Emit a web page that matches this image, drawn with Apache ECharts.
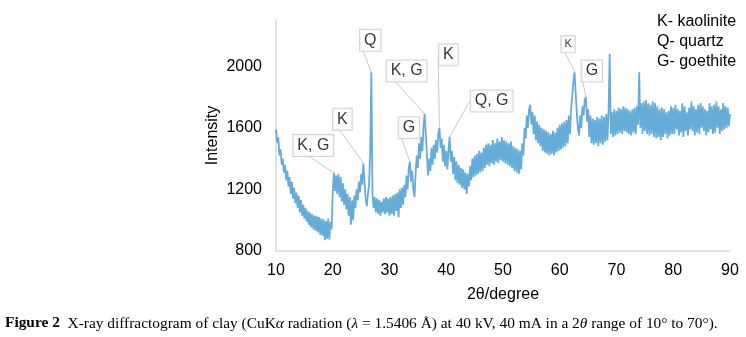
<!DOCTYPE html>
<html>
<head>
<meta charset="utf-8">
<script src="https://cdn.jsdelivr.net/npm/echarts@6/dist/echarts.min.js"></script>
<style>
  html, body { margin: 0; padding: 0; background: #fff; }
  #chart { width: 746px; height: 337px; }
</style>
</head>
<body>
<div id="chart"></div>
<script>
// 2theta sampled every 0.2 degree from 10 to 90
const thetaStart = 10
const thetaStep = 0.2

// intensity, one array per 10 degrees
const int10to20 = [1590, 1500, 1540, 1420, 1460, 1360, 1400, 1310, 1360, 1260,
  1320, 1220, 1280, 1170, 1250, 1140, 1210, 1110, 1180, 1080,
  1160, 1050, 1130, 1030, 1100, 1010, 1080, 990, 1060, 970,
  1050, 955, 1040, 940, 1030, 930, 1025, 920, 1020, 905,
  1010, 900, 1005, 870, 995, 880, 1010, 875, 990, 940]
const int20to30 = [1180, 1310, 1190, 1290, 1170, 1300, 1150, 1280, 1120, 1240,
  1100, 1200, 1070, 1170, 1030, 1150, 970, 1130, 1000, 1160,
  1080, 1200, 1130, 1250, 1180, 1300, 1230, 1370, 1250, 1140,
  1090, 1170, 1230, 1440, 1960, 1170, 1080, 1150, 1050, 1140,
  1040, 1130, 1030, 1120, 1050, 1140, 1040, 1150, 1050, 1140]
const int30to40 = [1030, 1150, 1040, 1160, 1030, 1170, 1060, 1180, 1020, 1200,
  1080, 1210, 1100, 1230, 1150, 1290, 1200, 1340, 1380, 1250,
  1320, 1200, 1150, 1300, 1420, 1340, 1500, 1400, 1540, 1450,
  1610, 1690, 1560, 1420, 1290, 1400, 1320, 1470, 1360, 1490,
  1400, 1520, 1440, 1560, 1600, 1470, 1530, 1380, 1490, 1350]
const int40to50 = [1450, 1330, 1460, 1540, 1380, 1450, 1300, 1410, 1260, 1380,
  1240, 1360, 1230, 1340, 1210, 1330, 1200, 1310, 1170, 1300,
  1220, 1350, 1260, 1400, 1280, 1420, 1290, 1430, 1300, 1450,
  1310, 1440, 1320, 1470, 1340, 1490, 1360, 1500, 1350, 1490,
  1370, 1520, 1360, 1500, 1380, 1530, 1370, 1510, 1390, 1540]
const int50to60 = [1380, 1520, 1370, 1510, 1360, 1500, 1350, 1510, 1340, 1480,
  1320, 1470, 1310, 1460, 1300, 1450, 1330, 1500, 1420, 1600,
  1530, 1680, 1600, 1720, 1750, 1620, 1700, 1560, 1680, 1520,
  1640, 1500, 1620, 1480, 1600, 1450, 1590, 1440, 1580, 1430,
  1570, 1420, 1560, 1430, 1580, 1420, 1570, 1440, 1600, 1450]
const int60to70 = [1620, 1460, 1630, 1470, 1640, 1480, 1650, 1500, 1680, 1560,
  1720, 1800, 1900, 1960, 1950, 1700, 1600, 1550, 1680, 1600,
  1740, 1680, 1780, 1800, 1640, 1720, 1540, 1680, 1500, 1660,
  1490, 1650, 1500, 1670, 1480, 1660, 1500, 1680, 1490, 1670,
  1510, 1690, 1520, 1700, 2080, 1560, 1700, 1540, 1720, 1550]
const int70to80 = [1710, 1560, 1730, 1570, 1720, 1560, 1740, 1580, 1730, 1570,
  1720, 1560, 1710, 1550, 1720, 1570, 1730, 1560, 1740, 1620,
  1960, 1600, 1760, 1560, 1770, 1580, 1780, 1560, 1760, 1550,
  1750, 1560, 1770, 1540, 1760, 1530, 1740, 1540, 1720, 1520,
  1730, 1540, 1720, 1560, 1700, 1530, 1710, 1550, 1740, 1560]
const int80to90 = [1730, 1560, 1750, 1590, 1720, 1550, 1710, 1570, 1760, 1540,
  1740, 1580, 1700, 1550, 1730, 1590, 1770, 1580, 1740, 1550,
  1720, 1570, 1750, 1560, 1760, 1600, 1740, 1580, 1720, 1550,
  1710, 1570, 1760, 1590, 1740, 1560, 1750, 1570, 1770, 1600,
  1740, 1560, 1720, 1580, 1760, 1590, 1740, 1600, 1730, 1610,
  1690]

// labelled peaks
const peakTheta = [20.1, 25.4, 26.8, 33.6, 36.2, 38.8, 40.6, 62.7, 64.6]
const peakIntensity = [1310, 1370, 1960, 1380, 1690, 1600, 1540, 1960, 1800]
const peakLabels = ['K, G', 'K', 'Q', 'G', 'K, G', 'K', 'Q, G', 'K', 'G']

const legendLines = ['K- kaolinite', 'Q- quartz', 'G- goethite']
const xTicks = { min: 10, max: 90, interval: 10 }
const yTicks = { min: 800, max: 2300, interval: 400 }

// callout offsets (px) from peak to box centre
const calloutOffsets = [[-20, -27], [-21, -44], [-1, -32], [-1, -34], [-18, -43], [9, -73], [42, -36], [-7, -28], [6, -26]]

const fontSans = "'Liberation Sans', Arial, sans-serif"
const fontSerif = "'Liberation Serif', serif"

const getOption = () => {
  const intensity = [].concat(int10to20, int20to30, int30to40, int40to50,
    int50to60, int60to70, int70to80, int80to90)
  const pattern = intensity.map((v, i) => [+(thetaStart + i * thetaStep).toFixed(1), v])

  const peaks = peakTheta.map((t, i) => ({
    value: [t, peakIntensity[i]],
    name: peakLabels[i],
    label: { fontSize: i === 7 ? 11 : 16, padding: i === 7 ? [3, 3, 2, 3] : [3, 4, 2, 4] }
  }))

  return {
    animation: false,
    grid: { left: 276, right: 16, top: 20, bottom: 86, containLabel: false },
    xAxis: {
      type: 'value',
      min: xTicks.min,
      max: xTicks.max,
      interval: xTicks.interval,
      name: '2θ/degree',
      nameLocation: 'middle',
      nameGap: 36,
      nameMoveOverlap: false,
      nameTextStyle: { fontFamily: fontSans, fontSize: 16, color: '#000' },
      axisLine: { lineStyle: { color: '#d9d9d9', width: 1.5 } },
      axisTick: { show: false },
      splitLine: { show: false },
      axisLabel: { fontFamily: fontSans, fontSize: 16, color: '#000', margin: 12 }
    },
    yAxis: {
      type: 'value',
      min: yTicks.min,
      max: yTicks.max,
      interval: yTicks.interval,
      name: 'Intensity',
      nameLocation: 'middle',
      nameGap: 55,
      nameMoveOverlap: false,
      nameTextStyle: { fontFamily: fontSans, fontSize: 16, color: '#000' },
      axisLine: { show: true, lineStyle: { color: '#d9d9d9', width: 1.5 } },
      axisTick: { show: false },
      splitLine: { show: false },
      axisLabel: {
        fontFamily: fontSans, fontSize: 16, color: '#000', margin: 14, showMaxLabel: false,
        formatter: (v) => String(v)
      }
    },
    graphic: [
      {
        type: 'text',
        left: 657,
        top: 12,
        style: {
          text: legendLines.join('\n'),
          fontFamily: fontSans,
          fontSize: 16,
          lineHeight: 20,
          fill: '#000'
        }
      },
      {
        type: 'text',
        left: 5,
        top: 316,
        style: {
          text: '{b|Figure 2}  X-ray diffractogram of clay (CuK{i|α} radiation ({i|λ} = 1.5406 Å) at 40 kV, 40 mA in a 2{i|θ} range of 10° to 70°).',
          fontFamily: fontSerif,
          fontSize: 15.4,
          fill: '#000',
          rich: {
            b: { fontFamily: fontSerif, fontSize: 15.4, fontWeight: 'bold', fill: '#000' },
            i: { fontFamily: fontSerif, fontSize: 15.4, fontStyle: 'italic', fill: '#000' }
          }
        }
      }
    ],
    series: [
      {
        type: 'line',
        data: pattern,
        showSymbol: false,
        lineStyle: { color: '#65acd8', width: 1.8 },
        itemStyle: { color: '#65acd8' },
        z: 2
      },
      {
        type: 'scatter',
        data: peaks,
        symbolSize: 0,
        z: 5,
        label: {
          show: true,
          position: 'inside',
          formatter: '{b}',
          fontFamily: fontSans,
          color: '#000',
          backgroundColor: '#fff',
          borderColor: '#c8c8c8',
          borderWidth: 1
        },
        labelLine: { show: true, lineStyle: { color: '#c8c8c8', width: 1 } },
        labelLayout: (params) => ({
          dx: calloutOffsets[params.dataIndex][0],
          dy: calloutOffsets[params.dataIndex][1]
        })
      }
    ]
  }
}

window.addEventListener('load', () => {
  const chart = echarts.init(document.getElementById('chart'))
  chart.setOption(getOption())
})
</script>
</body>
</html>
